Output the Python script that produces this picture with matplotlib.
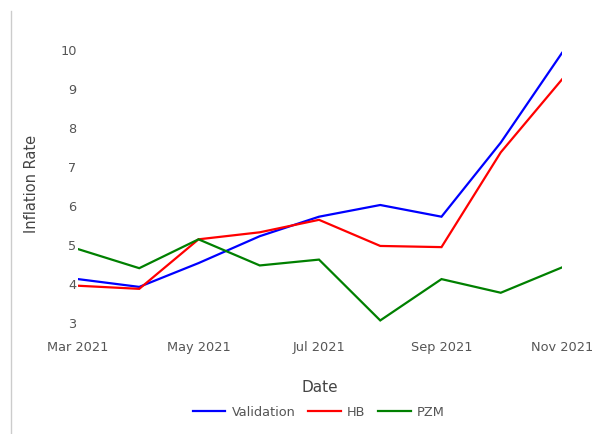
import pandas as pd
import matplotlib.pyplot as plt
import matplotlib.dates as mdates
from matplotlib.lines import Line2D

# dados mensais
dates = ["2021-03-01", "2021-04-01", "2021-05-01", "2021-06-01", "2021-07-01",
         "2021-08-01", "2021-09-01", "2021-10-01", "2021-11-01"]
validation = [4.10, 3.90, 4.51, 5.20, 5.70, 6.00, 5.70, 7.60, 9.90]
hb = [3.93, 3.85, 5.12, 5.30, 5.62, 4.95, 4.92, 7.35, 9.22]
pzm = [4.87, 4.38, 5.12, 4.45, 4.60, 3.04, 4.10, 3.75, 4.40]

df = pd.DataFrame({"Date": pd.to_datetime(dates), "Validation": validation,
                   "HB": hb, "PZM": pzm})
cores = {"Validation": "blue", "HB": "red", "PZM": "green"}

W, H = 592, 435
fig = plt.figure(figsize=(W / 100, H / 100), dpi=100)
plt.rcParams["font.family"] = "DejaVu Sans"

# area do grafico em pixels
x0, x1 = 78, 562
ylo, yhi = 2.9, 10.1
py3, py10 = 323, 50
ppu = (py3 - py10) / 7
ytop = py10 - (yhi - 10) * ppu
ybot = py3 + (3 - ylo) * ppu
ax = fig.add_axes([x0 / W, 1 - ybot / H, (x1 - x0) / W, (ybot - ytop) / H])

for nome in ["Validation", "HB", "PZM"]:
    ax.plot(df["Date"], df[nome], color=cores[nome], lw=1.6, label=nome,
            solid_joinstyle="miter")

ax.set_xlim(df["Date"].iloc[0], df["Date"].iloc[-1])
ax.set_ylim(ylo, yhi)
ax.set_yticks(range(3, 11))
ax.xaxis.set_major_locator(mdates.MonthLocator(bymonth=[3, 5, 7, 9, 11]))
ax.xaxis.set_major_formatter(mdates.DateFormatter("%b %Y"))
for s in ax.spines.values():
    s.set_visible(False)
ax.tick_params(axis="both", length=0, labelsize=9.3, labelcolor="#555555")
ax.tick_params(axis="x", pad=10)
ax.tick_params(axis="y", pad=1)
for lab in ax.get_xticklabels():
    lab.set_clip_on(False)

fig.text(32 / W, 1 - 184 / H, "Inflation Rate", rotation=90, fontsize=10.5,
         color="#444444", ha="center", va="center")
fig.text(320 / W, 1 - 388 / H, "Date", fontsize=11, color="#444444",
         ha="center", va="center")

handles = [Line2D([], [], color=cores[n], lw=1.6) for n in ["Validation", "HB", "PZM"]]
fig.legend(handles, ["Validation", "HB", "PZM"], loc="center",
           bbox_to_anchor=(319 / W, 1 - 413 / H), ncol=3, frameon=False,
           fontsize=9.3, handlelength=2.5, handletextpad=0.5, columnspacing=1.0,
           labelcolor="#555555")

# borda cinza da esquerda
fig.add_artist(Line2D([11 / W, 11 / W], [0, 1 - 12 / H], color="#cccccc", lw=1))

fig.savefig("out.png", dpi=100)
